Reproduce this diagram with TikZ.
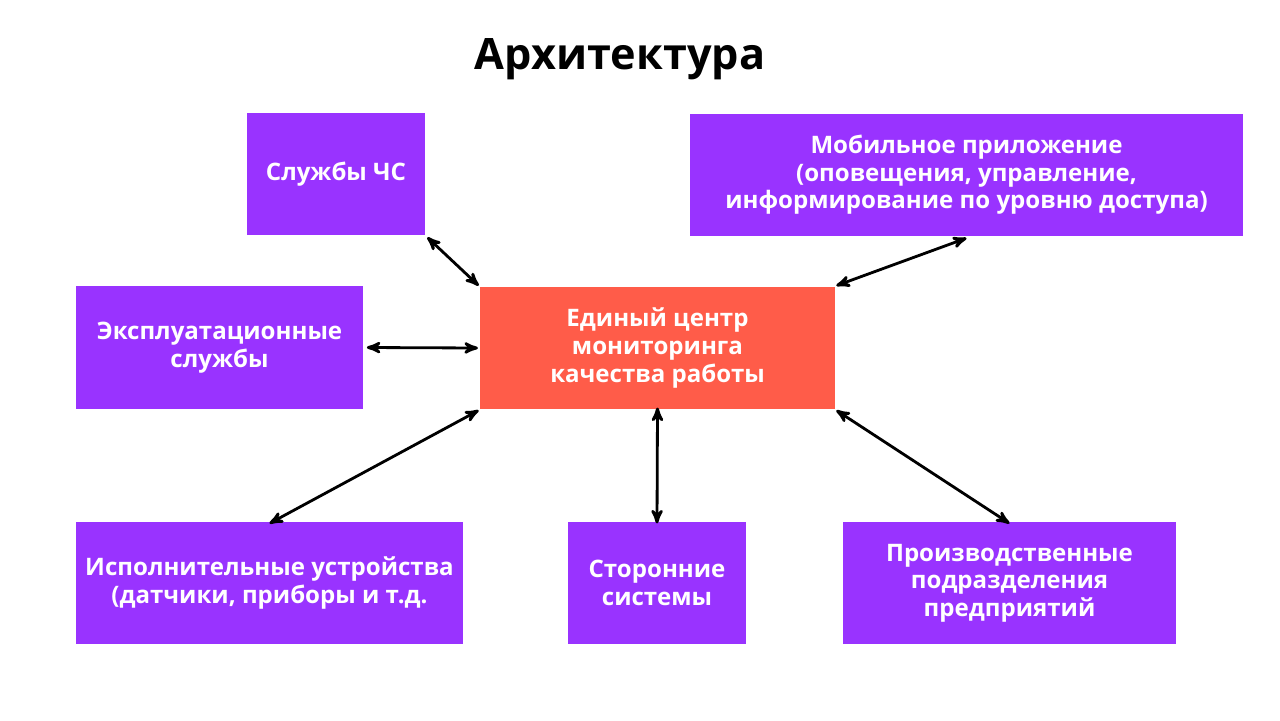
\documentclass[tikz,border=0pt]{standalone}
\usepackage{fontspec}
\setmainfont{Open Sans}
\usepackage{xcolor}
\usetikzlibrary{arrows}
\definecolor{boxpurple}{HTML}{9933FF}
\definecolor{centerred}{HTML}{FF5C49}

\tikzset{
  unit/.style={fill=boxpurple, text=white, align=center, inner sep=0pt,
    font=\fontsize{13.7}{15.7}\selectfont\bfseries},
  hub/.style={unit, fill=centerred},
  link/.style={stealth'-stealth', line width=1.6pt, black},
}

\begin{document}
\begin{tikzpicture}[x=0.02cm,y=-0.02cm]
\useasboundingbox (0,0) rectangle (1280,720);

\node[font=\fontsize{24.6}{30}\selectfont\bfseries] (title) at (620,59) {Архитектура};

\node[hub, minimum width=7.1cm, minimum height=2.44cm] (center) at (657.5,348) {Единый центр\\мониторинга\\качества работы};

\node[unit, minimum width=3.56cm, minimum height=2.44cm] (chs) at (336,174) {Службы ЧС};
\node[unit, minimum width=11.06cm, minimum height=2.44cm] (mobile) at (966.5,175) {Мобильное приложение\\(оповещения, управление,\\информирование по уровню доступа)};
\node[unit, minimum width=5.74cm, minimum height=2.46cm] (expl) at (219.5,347.5) {Эксплуатационные\\службы};
\node[unit, minimum width=7.74cm, minimum height=2.44cm] (devices) at (269.5,583) {Исполнительные устройства\\(датчики, приборы и т.д.};
\node[unit, minimum width=3.56cm, minimum height=2.44cm] (ext) at (657,583) {Сторонние\\системы};
\node[unit, minimum width=6.66cm, minimum height=2.44cm] (prod) at (1009.5,583) {Производственные\\подразделения\\предприятий};

% connections
\draw[link] ([shift={(2,2)}]chs.south east) -- ([shift={(-1,-1)}]center.north west);
\draw[link] ([yshift={-1}]mobile.south) -- ([shift={(1,-1)}]center.north east);
\draw[link] ([xshift={2}]expl.east) -- ([xshift={-1}]center.west);
\draw[link] ([yshift={-1}]devices.north) -- ([shift={(-1,1)}]center.south west);
\draw[link] ([yshift={-1}]ext.north) -- ([yshift={1}]center.south);
\draw[link] ([yshift={-1}]prod.north) -- ([shift={(1,1)}]center.south east);
\end{tikzpicture}
\end{document}
